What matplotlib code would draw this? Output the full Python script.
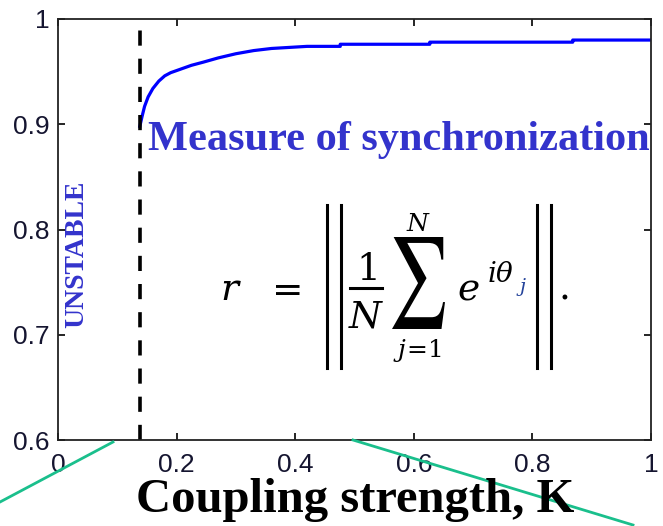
import matplotlib
matplotlib.use('Agg')
import matplotlib.pyplot as plt
from matplotlib.lines import Line2D
from matplotlib.patches import PathPatch
from matplotlib.textpath import TextPath
from matplotlib.transforms import Affine2D

# order parameter r vs coupling strength K
K = [0.138, 0.142, 0.146, 0.152, 0.160, 0.170, 0.180, 0.190, 0.205, 0.225,
     0.245, 0.270, 0.300, 0.330, 0.360, 0.390, 0.420, 0.476, 0.476, 0.627,
     0.627, 0.868, 0.868, 1.000]
r = [0.898, 0.908, 0.917, 0.926, 0.934, 0.941, 0.946, 0.949, 0.952, 0.956,
     0.959, 0.963, 0.967, 0.970, 0.972, 0.973, 0.974, 0.974, 0.976, 0.976,
     0.978, 0.978, 0.980, 0.980]

K_critical = 0.138

x_ticks = [0, 0.2, 0.4, 0.6, 0.8, 1]
x_tick_labels = ['0', '0.2', '0.4', '0.6', '0.8', '1']
y_ticks = [0.6, 0.7, 0.8, 0.9, 1.0]
y_tick_labels = ['0.6', '0.7', '0.8', '0.9', '1']

W, H = 663, 526


def px(x, y):
    # pixel position (from top-left) -> figure fraction
    return x / W, 1 - y / H


# decorative green lines, pixel ends
green_lines = [((0, 502), (113, 442)), ((353, 440), (633, 525))]

plt.rcParams['mathtext.fontset'] = 'dejavuserif'

fig = plt.figure(figsize=(W / 100, H / 100), dpi=100)
ax = fig.add_axes([58 / W, 1 - 440 / H, 593 / W, 421 / H])

ax.plot(K, r, color='#0000ff', lw=2.3, solid_joinstyle='round')
ax.axvline(K_critical, color='black', lw=2.6, ls=(0, (4.2, 3.6)))

ax.set_xlim(0, 1)
ax.set_ylim(0.6, 1.0)
ax.set_xticks(x_ticks)
ax.set_xticklabels(x_tick_labels)
ax.set_yticks(y_ticks)
ax.set_yticklabels(y_tick_labels)

tick_font = dict(family='Liberation Sans', size=19, color='#151530')
for lab in ax.get_xticklabels() + ax.get_yticklabels():
    lab.set(**tick_font)
ax.tick_params(direction='in', length=5, width=1.2, top=True, right=True,
               colors='black', labelcolor='#151530')
ax.tick_params(axis='x', pad=9)
ax.tick_params(axis='y', pad=6)
for sp in ax.spines.values():
    sp.set_linewidth(1.3)
    sp.set_color('#222222')

ax.text(0.152, 0.689, 'Measure of synchronization', transform=ax.transAxes,
        family='Liberation Serif', weight='bold', size=30.5, color='#3333cc',
        va='baseline', ha='left', clip_on=False)
ax.text(0.032, 0.44, 'UNSTABLE', transform=ax.transAxes, rotation=90,
        family='Liberation Serif', weight='bold', size=20, color='#3333cc',
        va='center', ha='center')

# formula  r = || (1/N) sum_{j=1}^N e^{i theta_j} ||.  built from pieces
big, small = 27, 18
fig.text(*px(231, 300), r'$r$', size=big, ha='center', va='baseline')
fig.text(*px(282, 300), r'$=$', size=big, ha='center', va='baseline')
fig.text(*px(366, 280), r'$\mathrm{1}$', size=big, ha='center', va='baseline')
fig.text(*px(366, 328), r'$N$', size=big, ha='center', va='baseline')
fig.text(*px(419, 231), r'$N$', size=small, ha='center', va='baseline')
fig.text(*px(418, 357), r'$j\!=\!1$', size=small, ha='center', va='baseline')
fig.text(*px(457, 300), r'$e$', size=big, ha='left', va='baseline')
fig.text(*px(487, 282), r'$i\theta$', size=20, ha='left', va='baseline')
fig.text(*px(516, 292), r'$j$', size=14, ha='left', va='baseline',
         color='#24439a')
fig.text(*px(558, 300), '.', size=big, family='DejaVu Serif',
         ha='left', va='baseline')

# big sigma, stretched to the tall display size of the reference
with plt.rc_context({'mathtext.fontset': 'stix'}):
    sig = TextPath((0, 0), r'$\sum$', size=1)
ext = sig.get_extents()
sx = 53 / W / ext.width
sy = 92 / H / ext.height
x0, y0 = px(392, 329)
tr = Affine2D().translate(-ext.x0, -ext.y0).scale(sx, sy).translate(x0, y0)
fig.add_artist(PathPatch(tr.transform_path(sig), transform=fig.transFigure,
                         facecolor='black', edgecolor='none'))

# fraction rule and the double bars of the norm
rules = [((350, 288), (382, 288)),
         ((327, 205), (327, 368)), ((341, 205), (341, 368)),
         ((537, 205), (537, 368)), ((551, 205), (551, 368))]
for (xa, ya), (xb, yb) in rules:
    (fa, ga), (fb, gb) = px(xa, ya), px(xb, yb)
    fig.add_artist(Line2D([fa, fb], [ga, gb], transform=fig.transFigure,
                          color='black', lw=2.2))

fig.text(*px(355, 512), 'Coupling strength, K',
         family='Liberation Serif', weight='bold', size=35, color='black',
         ha='center', va='baseline')

for (xa, ya), (xb, yb) in green_lines:
    (fa, ga), (fb, gb) = px(xa, ya), px(xb, yb)
    fig.add_artist(Line2D([fa, fb], [ga, gb], transform=fig.transFigure,
                          color='#1abf8c', lw=2.0))

fig.savefig('out.png', dpi=100)
